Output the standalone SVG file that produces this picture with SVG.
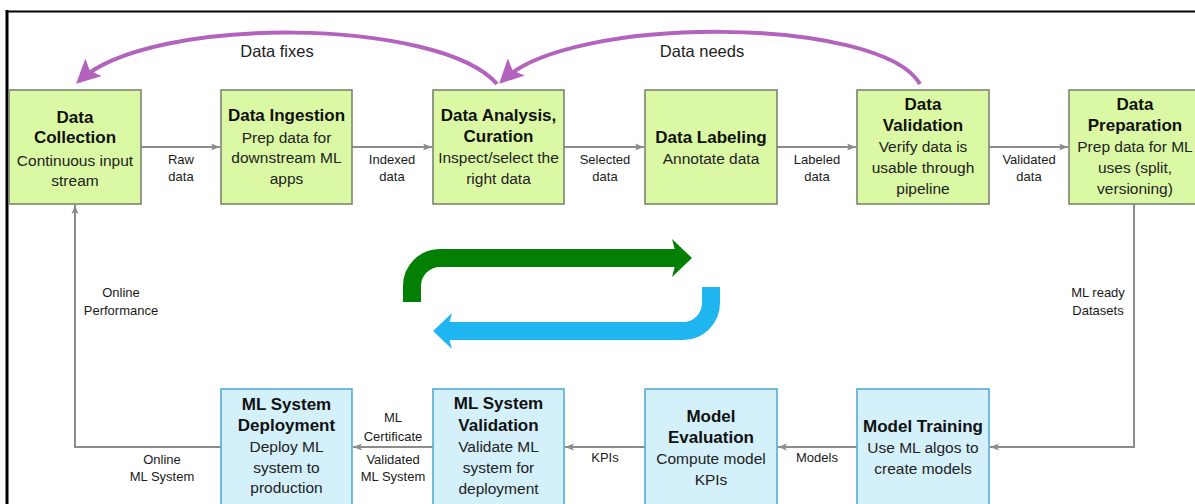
<svg xmlns="http://www.w3.org/2000/svg" width="1195" height="504" viewBox="0 0 1195 504">
  <style>
    .frame { stroke: #000; fill: none; }
    .gbox { fill: #dbf9a4; stroke: #7b8570; stroke-width: 1.6; }
    .bbox { fill: #d4f1fb; stroke: #55acd2; stroke-width: 1.6; }
    .title { font-family: "Liberation Sans", Arial, sans-serif; font-size: 17px; font-weight: bold; fill: #111; text-anchor: middle; }
    .body { font-family: "Liberation Sans", Arial, sans-serif; font-size: 15.5px; fill: #222; text-anchor: middle; }
    .lbl { font-family: "Liberation Sans", Arial, sans-serif; font-size: 13px; fill: #1a1a1a; text-anchor: middle; }
    .loop { font-family: "Liberation Sans", Arial, sans-serif; font-size: 16.5px; fill: #222; text-anchor: middle; }
    .conn { fill: none; stroke: #8c8c8c; stroke-width: 2; }
    .fb { fill: none; stroke: #b362be; stroke-width: 4; }
  </style>
  <defs>
    <marker id="ah" markerUnits="userSpaceOnUse" markerWidth="10" markerHeight="8" refX="9" refY="4" orient="auto">
      <path d="M0,0.5 L9,4 L0,7.5 L2,4 z" fill="#8c8c8c"/>
    </marker>
    <marker id="ahp" markerUnits="userSpaceOnUse" markerWidth="26" markerHeight="24" refX="20" refY="12" orient="auto">
      <path d="M0,0 L24,12 L0,24 L5,12 z" fill="#b362be"/>
    </marker>
  </defs>

  <!-- page frame -->
  <line class="frame" x1="7" y1="10" x2="7" y2="504" stroke-width="3"/>
  <line class="frame" x1="6" y1="11.5" x2="1195" y2="11.5" stroke-width="2"/>

  <!-- connectors -->
  <g id="connectors">
    <path class="conn" d="M141,147 H220" marker-end="url(#ah)"/>
    <path class="conn" d="M352,147 H432" marker-end="url(#ah)"/>
    <path class="conn" d="M564,147 H644" marker-end="url(#ah)"/>
    <path class="conn" d="M777,147 H856" marker-end="url(#ah)"/>
    <path class="conn" d="M989,147 H1068" marker-end="url(#ah)"/>
    <path class="conn" d="M1134,204 V447 H990" marker-end="url(#ah)"/>
    <path class="conn" d="M857,447 H778" marker-end="url(#ah)"/>
    <path class="conn" d="M645,447 H565" marker-end="url(#ah)"/>
    <path class="conn" d="M433,447 H353" marker-end="url(#ah)"/>
    <path class="conn" d="M221,447 H75 V205" marker-end="url(#ah)"/>

    <text class="lbl" x="181" y="164">Raw</text>
    <text class="lbl" x="181" y="181">data</text>
    <text class="lbl" x="392" y="164">Indexed</text>
    <text class="lbl" x="392" y="181">data</text>
    <text class="lbl" x="605" y="164">Selected</text>
    <text class="lbl" x="605" y="181">data</text>
    <text class="lbl" x="817" y="164">Labeled</text>
    <text class="lbl" x="817" y="181">data</text>
    <text class="lbl" x="1029" y="164">Validated</text>
    <text class="lbl" x="1029" y="181">data</text>
    <text class="lbl" x="1098" y="297">ML ready</text>
    <text class="lbl" x="1098" y="315">Datasets</text>
    <text class="lbl" x="817" y="462">Models</text>
    <text class="lbl" x="605" y="462">KPIs</text>
    <text class="lbl" x="393" y="422">ML</text>
    <text class="lbl" x="393" y="441">Certificate</text>
    <text class="lbl" x="393" y="464">Validated</text>
    <text class="lbl" x="393" y="481">ML System</text>
    <text class="lbl" x="162" y="464">Online</text>
    <text class="lbl" x="162" y="481">ML System</text>
    <text class="lbl" x="121" y="297">Online</text>
    <text class="lbl" x="121" y="315">Performance</text>

    <!-- feedback loops -->
    <path class="fb" d="M497,84 C440,18 150,14 79,81" marker-end="url(#ahp)"/>
    <text class="loop" x="277" y="57">Data fixes</text>
    <path class="fb" d="M920,84 C880,16 570,14 502,81" marker-end="url(#ahp)"/>
    <text class="loop" x="702" y="57">Data needs</text>

    <!-- central cycle arrows -->
    <path d="M412,302 V286 A28,28 0 0 1 440,258 H680" fill="none" stroke="#038003" stroke-width="18"/>
    <path d="M672,239 L692,258 L672,277 L677,258 z" fill="#038003"/>
    <path d="M711,287 V303 A28,28 0 0 1 683,331 H445" fill="none" stroke="#1fb5f0" stroke-width="18"/>
    <path d="M452,313 L433,331 L452,349 L447,331 z" fill="#1fb5f0"/>
  </g>

  <!-- data stage nodes -->
  <g id="data-collection">
    <rect class="gbox" x="9" y="90" width="132" height="114"/>
    <text class="title" x="75" y="123">Data</text>
    <text class="title" x="75" y="143">Collection</text>
    <text class="body" x="75" y="166">Continuous input</text>
    <text class="body" x="75" y="186">stream</text>
  </g>
  <g id="data-ingestion">
    <rect class="gbox" x="221" y="90" width="131" height="114"/>
    <text class="title" x="286.5" y="121">Data Ingestion</text>
    <text class="body" x="286.5" y="143">Prep data for</text>
    <text class="body" x="286.5" y="163">downstream ML</text>
    <text class="body" x="286.5" y="184">apps</text>
  </g>
  <g id="data-analysis">
    <rect class="gbox" x="433" y="90" width="131" height="114"/>
    <text class="title" x="498.5" y="121">Data Analysis,</text>
    <text class="title" x="498.5" y="142">Curation</text>
    <text class="body" x="498.5" y="163">Inspect/select the</text>
    <text class="body" x="498.5" y="184">right data</text>
  </g>
  <g id="data-labeling">
    <rect class="gbox" x="645" y="90" width="132" height="114"/>
    <text class="title" x="711" y="143">Data Labeling</text>
    <text class="body" x="711" y="164">Annotate data</text>
  </g>
  <g id="data-validation">
    <rect class="gbox" x="857" y="90" width="132" height="114"/>
    <text class="title" x="923" y="110">Data</text>
    <text class="title" x="923" y="131">Validation</text>
    <text class="body" x="923" y="152">Verify data is</text>
    <text class="body" x="923" y="173">usable through</text>
    <text class="body" x="923" y="194">pipeline</text>
  </g>
  <g id="data-preparation">
    <rect class="gbox" x="1069" y="90" width="132" height="114"/>
    <text class="title" x="1135" y="110">Data</text>
    <text class="title" x="1135" y="131">Preparation</text>
    <text class="body" x="1135" y="152">Prep data for ML</text>
    <text class="body" x="1135" y="173">uses (split,</text>
    <text class="body" x="1135" y="194">versioning)</text>
  </g>

  <!-- model stage nodes -->
  <g id="model-training">
    <rect class="bbox" x="857" y="389" width="132" height="130"/>
    <text class="title" x="923" y="432">Model Training</text>
    <text class="body" x="923" y="453">Use ML algos to</text>
    <text class="body" x="923" y="474">create models</text>
  </g>
  <g id="model-evaluation">
    <rect class="bbox" x="645" y="389" width="132" height="130"/>
    <text class="title" x="711" y="422">Model</text>
    <text class="title" x="711" y="443">Evaluation</text>
    <text class="body" x="711" y="464">Compute model</text>
    <text class="body" x="711" y="485">KPIs</text>
  </g>
  <g id="ml-system-validation">
    <rect class="bbox" x="433" y="389" width="131" height="130"/>
    <text class="title" x="498.5" y="409">ML System</text>
    <text class="title" x="498.5" y="431">Validation</text>
    <text class="body" x="498.5" y="452">Validate ML</text>
    <text class="body" x="498.5" y="473">system for</text>
    <text class="body" x="498.5" y="494">deployment</text>
  </g>
  <g id="ml-system-deployment">
    <rect class="bbox" x="221" y="389" width="131" height="130"/>
    <text class="title" x="286.5" y="410">ML System</text>
    <text class="title" x="286.5" y="431">Deployment</text>
    <text class="body" x="286.5" y="452">Deploy ML</text>
    <text class="body" x="286.5" y="473">system to</text>
    <text class="body" x="286.5" y="493">production</text>
  </g>
</svg>
